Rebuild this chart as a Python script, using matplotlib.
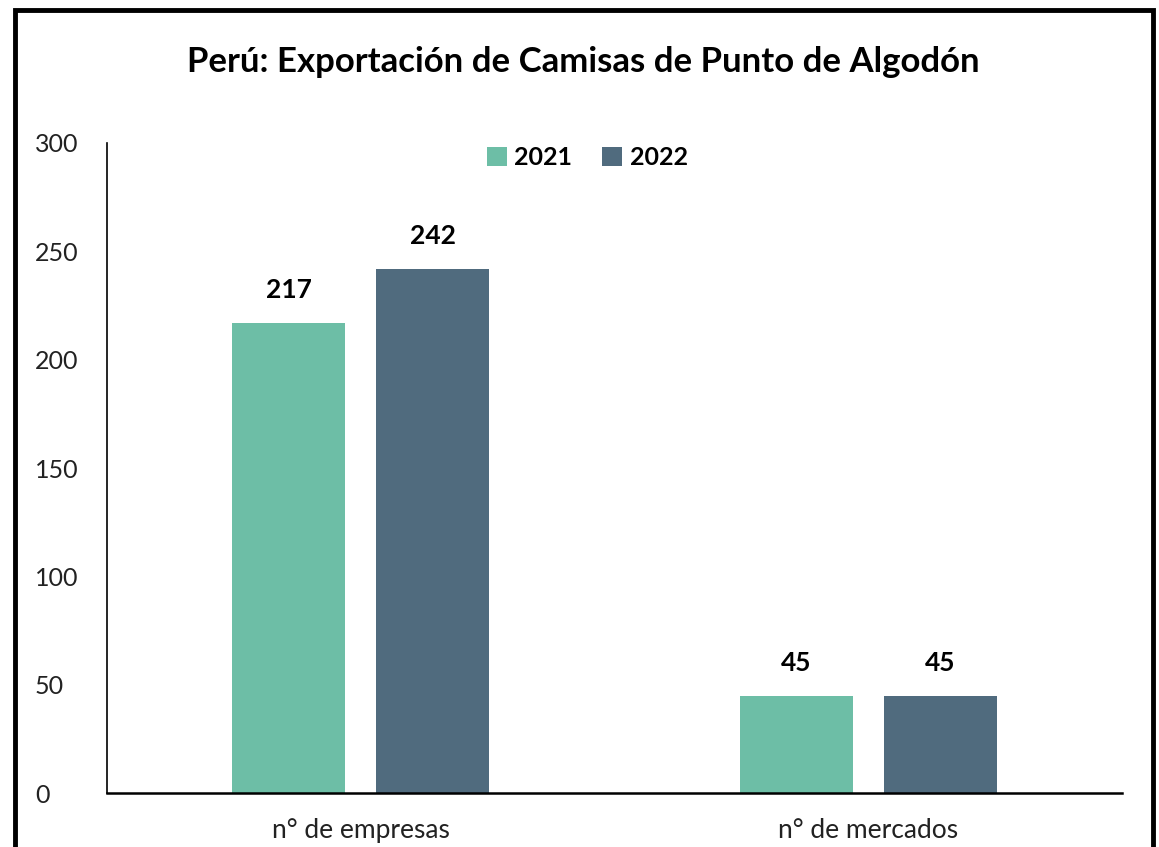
import numpy as np
import matplotlib.pyplot as plt
from matplotlib.patches import Rectangle

categories = ["n° de empresas", "n° de mercados"]
years = ["2021", "2022"]
values_2021 = [217, 45]
values_2022 = [242, 45]

col_2021 = "#6DBEA6"
col_2022 = "#506B7E"

plt.rcParams['font.family'] = ['Lato', 'DejaVu Sans']

fig = plt.figure(figsize=(11.59, 8.47), dpi=100)
ax = fig.add_axes([107 / 1159, 1 - 793 / 847, (1122 - 107) / 1159, (793 - 143) / 847])

x = np.arange(len(categories))
w = 0.223
off = 0.142
b1 = ax.bar(x - off, values_2021, w, color=col_2021, label=years[0])
b2 = ax.bar(x + off, values_2022, w, color=col_2022, label=years[1])

for bars in (b1, b2):
    for rect in bars:
        ax.annotate(f"{int(rect.get_height())}",
                    (rect.get_x() + rect.get_width() / 2, rect.get_height()),
                    xytext=(0, 15), textcoords="offset points",
                    ha="center", va="bottom", fontsize=19, fontweight="bold")

ax.set_xlim(-0.5, 1.5)
ax.set_ylim(0, 300)
ax.set_yticks(np.arange(0, 301, 50))
ax.set_xticks(x)
ax.set_xticklabels(categories)
ax.tick_params(axis="both", length=0, colors="#222222")
ax.tick_params(axis="y", labelsize=18, pad=52)
ax.tick_params(axis="x", labelsize=19, pad=18)
for lab in ax.get_yticklabels():
    lab.set_horizontalalignment("left")
ax.spines["top"].set_visible(False)
ax.spines["right"].set_visible(False)
ax.spines["left"].set_linewidth(1.2)
ax.spines["bottom"].set_linewidth(1.8)

leg = ax.legend(loc="upper center", bbox_to_anchor=(0.473, 1.03), ncol=2, frameon=False,
                handlelength=0.8, handleheight=0.8, handletextpad=0.3,
                columnspacing=1.2, prop={"weight": "bold", "size": 18})

fig.text(0.503, 1 - 62 / 847, "Perú: Exportación de Camisas de Punto de Algodón",
         ha="center", va="center", fontsize=25, fontweight="bold")

# outer frame
fig.patches.append(Rectangle((15 / 1159, -0.05), (1153 - 15) / 1159, 1.05 - 10 / 847,
                             transform=fig.transFigure, fill=False, lw=3.5,
                             edgecolor="black"))

fig.savefig("out.png", dpi=100)
